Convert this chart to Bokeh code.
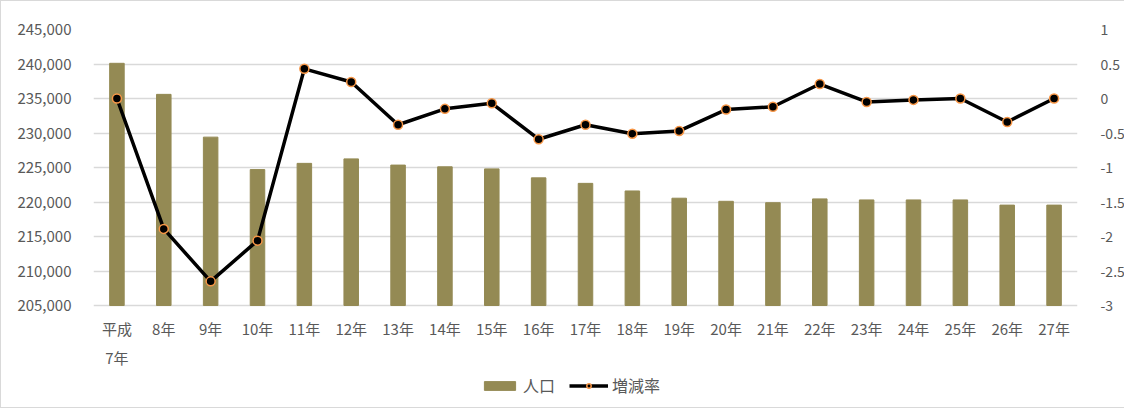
from bokeh.plotting import figure
from bokeh.models import (Range1d, LinearAxis, FixedTicker, NumeralTickFormatter,
                          CustomJSTickFormatter, Legend, LegendItem, ColumnDataSource)
from bokeh.core.properties import value
from bokeh.embed import file_html
from bokeh.resources import INLINE

# ---- data ----
years = ["平成\n7年", "8年", "9年", "10年", "11年", "12年", "13年", "14年", "15年", "16年",
         "17年", "18年", "19年", "20年", "21年", "22年", "23年", "24年", "25年", "26年", "27年"]
population = [240100, 235600, 229400, 224700, 225600, 226250, 225350, 225100, 224800, 223500,
              222700, 221600, 220550, 220100, 219900, 220450, 220300, 220300, 220300, 219550, 219550]
rate = [0.0, -1.89, -2.65, -2.06, 0.43, 0.24, -0.38, -0.15, -0.07, -0.59,
        -0.38, -0.51, -0.47, -0.16, -0.12, 0.21, -0.05, -0.02, 0.0, -0.34, 0.0]
left_ticks = [205000, 210000, 215000, 220000, 225000, 230000, 235000, 240000, 245000]
right_ticks = [-3, -2.5, -2, -1.5, -1, -0.5, 0, 0.5, 1]

FONT = "Noto Sans CJK JP"
GRAY = "#595959"

# ---- layout: the frame extends below the value area to hold category labels and legend ----
PLOT_H = 276          # px height of the value area (205,000 .. 245,000)
EXTRA_H = 100         # px below the value area for labels and legend
L_MIN, L_MAX = left_ticks[0], left_ticks[-1]
R_MIN, R_MAX = right_ticks[0], right_ticks[-1]
l_start = L_MIN - EXTRA_H * (L_MAX - L_MIN) / PLOT_H
r_start = R_MIN - EXTRA_H * (R_MAX - R_MIN) / PLOT_H

src = ColumnDataSource(dict(year=years, pop=population, rate=rate,
                            base=[L_MIN] * len(years)))

p = figure(x_range=years, y_range=Range1d(l_start, L_MAX),
           frame_width=984, frame_height=PLOT_H + EXTRA_H,
           min_border_left=92, min_border_right=10, min_border_top=28, min_border_bottom=2,
           output_backend="svg", toolbar_location=None)
p.outline_line_color = None
p.styles = {"border": "1px solid #d9d9d9"}

p.extra_y_ranges = {"rate": Range1d(r_start, R_MAX)}

bars = p.vbar(x="year", top="pop", bottom=L_MIN, width=0.31, source=src,
              fill_color="#948A54", line_color="#948A54")
line = p.line(x="year", y="rate", source=src, y_range_name="rate",
              line_color="black", line_width=3.5)
pts = p.scatter(x="year", y="rate", source=src, y_range_name="rate", size=9,
                fill_color="black", line_color="#F79646", line_width=1.5)

# category labels below the value area
p.text(x="year", y="base", text="year", source=src,
       text_font=value(FONT), text_font_size=value("15px"), text_color=GRAY,
       text_align="center", text_baseline="top", text_line_height=1.4, y_offset=12)

# left axis
la = p.yaxis[0]
la.ticker = FixedTicker(ticks=left_ticks)
la.formatter = NumeralTickFormatter(format="0,0")
la.axis_line_color = None
la.major_tick_line_color = None
la.minor_tick_line_color = None
la.major_label_text_font = FONT
la.major_label_text_font_size = "15px"
la.major_label_text_color = GRAY
la.major_label_standoff = 16

# right axis
ra = LinearAxis(y_range_name="rate", ticker=FixedTicker(ticks=right_ticks),
                formatter=CustomJSTickFormatter(code="return String(tick);"))
ra.axis_line_color = None
ra.major_tick_line_color = None
ra.minor_tick_line_color = None
ra.major_label_text_font = FONT
ra.major_label_text_font_size = "14px"
ra.major_label_text_color = GRAY
ra.major_label_standoff = 17
p.add_layout(ra, "right")

# hide default category axis (labels drawn above as text)
p.xaxis.visible = False

p.xgrid.grid_line_color = None
p.ygrid.grid_line_color = "#d9d9d9"
p.ygrid.grid_line_width = 1.5

legend = Legend(items=[LegendItem(label="人口", renderers=[bars]),
                       LegendItem(label="増減率", renderers=[line, pts])],
                orientation="horizontal", location=(387, 8),
                glyph_width=39, glyph_height=11, spacing=14,
                label_text_font=FONT, label_text_font_size="16px",
                label_text_color=GRAY, label_standoff=4,
                border_line_color=None, background_fill_alpha=0,
                padding=0, margin=0)
p.add_layout(legend, "center")

open("out.html", "w").write(file_html(p, INLINE))
